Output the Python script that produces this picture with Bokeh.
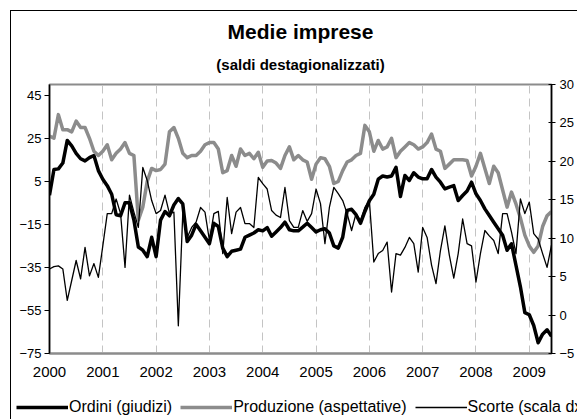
from bokeh.plotting import figure
from bokeh.layouts import column
from bokeh.models import (Range1d, LinearAxis, FixedTicker, Legend, LegendItem, Title,
                          InlineStyleSheet)
from bokeh.embed import file_html
from bokeh.resources import INLINE

# ---- data (monthly, Jan 2000 - Jun 2009) ----
year_labels = ["2000", "2001", "2002", "2003", "2004", "2005", "2006", "2007", "2008", "2009"]
left_ticks = [-75, -55, -35, -15, 5, 25, 45]
right_ticks = [-5, 0, 5, 10, 15, 20, 25, 30]
series_names = ["Ordini (giudizi)", "Produzione (aspettative)", "Scorte (scala dx)"]

ordini = [
    -1.5, 10.5, 10.8, 13.5, 24.0, 21.5, 18.0, 15.5, 14.5, 16.0, 17.0, 10.0,
    6.0, 3.0, -1.0, -10.5, -11.0, -5.0, -5.0, -13.0, -25.5, -27.0, -30.0, -21.0,
    -30.0, -13.0, -9.0, -11.0, -6.0, -3.0, -5.5, -23.0, -20.0, -15.0, -18.0, -21.0,
    -24.0, -14.5, -16.0, -26.0, -30.0, -27.5, -27.0, -26.5, -21.0, -20.0, -19.0, -17.5,
    -18.0, -16.5, -20.5, -18.5, -16.5, -14.0, -17.5, -18.0, -18.0, -16.3, -14.5, -16.5,
    -18.5, -17.5, -17.0, -19.0, -25.0, -26.0, -21.0, -8.5, -8.0, -10.5, -14.5, -9.0,
    -4.0, -1.0, 6.0, 7.5, 7.0, 7.5, 11.5, -2.0, 7.7, 5.4, 9.0, 7.0,
    6.2, 6.2, 10.5, 7.0, 4.6, 1.5, 2.3, 3.0, -3.9, -1.6, 0.5, 4.6,
    -0.8, -3.9, -7.8, -10.9, -14.0, -17.0, -20.0, -27.0, -24.0, -34.0, -44.0, -56.0,
    -57.0, -62.0, -70.0, -66.0, -64.0, -67.0,
]
produzione = [
    26, 25, 36, 29, 29, 28, 33, 30, 30, 25, 19, 17,
    19, 22, 15, 18, 20, 23, 18, 17, -13, -7, 5, 11,
    10, 10.5, 13, 28, 30, 25, 18, 16, 17, 17, 19, 22,
    23, 23, 20, 9, 10, 17, 12, 20, 17, 18, 15.5, 18.5,
    11.5, 14.5, 14.7, 13.5, 11, 17, 21, 15, 17, 15, 14, 6,
    13, 16, 15.5, 12, 4, 5, 10, 14, 15, 17, 18, 31,
    28, 19, 24, 20, 21, 25, 16, 19, 21, 23, 22, 20,
    21, 23, 27, 20, 19, 11, 13, 15, 15, 15, 14.7, 7.5,
    12, 18, 11, 4, 12, 9, 1, -7, 0, -5.5, -12, -20,
    -25, -28, -25, -16, -11, -9,
]
scorte = [
    6.0, 6.3, 6.4, 6.0, 1.9, 4.5, 7.1, 4.7, 8.8, 5.1, 6.7, 4.9,
    9.0, 13.2, 13.2, 15.1, 13.2, 6.2, 15.6, 13.4, 11.4, 19.2, 17.5, 14.9,
    13.2, 13.6, 15.6, 13.2, 13.4, -1.4, 13.2, 10.1, 11.4, 12.1, 14.0, 13.4,
    9.7, 13.2, 13.5, 8.0, 15.3, 10.6, 13.4, 14.0, 11.9, 11.9, 11.4, 17.9,
    17.1, 16.4, 13.6, 13.0, 12.7, 16.6, 12.3, 11.4, 11.4, 13.6, 12.2, 13.2,
    16.4, 14.5, 9.3, 14.0, 16.6, 15.8, 14.9, 13.2, 11.0, 13.2, 12.3, 14.0,
    14.9, 6.9, 8.0, 8.4, 9.5, 3.0, 8.0, 7.8, 8.8, 10.1, 9.3, 5.6,
    11.4, 10.1, 6.5, 4.1, 8.4, 11.6, 7.8, 4.8, 8.0, 12.5, 9.3, 9.0,
    4.3, 8.0, 11.0, 10.3, 9.7, 8.0, 13.2, 13.2, 10.8, 8.0, 15.1, 13.2,
    14.7, 10.6, 9.9, 8.0, 6.2, 9.1,
]

months = list(range(len(ordini)))
year_ticks = [12 * i for i in range(len(year_labels))]

FONT = "Liberation Sans"
GREY = "#8c8c8c"
STYLES = [
    dict(line_color="black", line_width=3.5),
    dict(line_color=GREY, line_width=3.5),
    dict(line_color="black", line_width=1.3),
]

W, H_MAIN, H_LEG = 577, 395, 24

css_main = InlineStyleSheet(css=(
    ":host { position: relative; }"
    ":host::before { content: ''; position: absolute; left: 10px; top: 10px; right: 0; bottom: 0;"
    " border-left: 1px solid black; border-top: 1px solid black; z-index: 5; pointer-events: none; }"))
css_leg = InlineStyleSheet(css=(
    ":host { position: relative; }"
    ":host::before { content: ''; position: absolute; left: 10px; top: 0; bottom: 0; width: 0;"
    " border-left: 1px solid black; z-index: 5; pointer-events: none; }"))

p = figure(width=W, height=H_MAIN, output_backend="svg", toolbar_location=None,
           x_range=Range1d(months[0], months[-1]), y_range=Range1d(-75, 50),
           min_border_left=49, min_border_right=25, min_border_top=84, min_border_bottom=42,
           background_fill_color="white", border_fill_color="white",
           stylesheets=[css_main])
p.frame_align = False
p.extra_y_ranges = {"dx": Range1d(-5, 30)}

p.outline_line_color = GREY
p.outline_line_width = 2
p.ygrid.visible = False
p.xgrid.ticker = FixedTicker(ticks=year_ticks)
p.xgrid.grid_line_color = "#c4c4c4"
p.xgrid.grid_line_dash = "8 5"
p.xgrid.grid_line_width = 1

# left axis
ya = p.yaxis[0]
ya.ticker = FixedTicker(ticks=left_ticks)
ya.axis_line_color = "black"
ya.axis_line_width = 1.5
ya.major_tick_line_color = "black"
ya.major_tick_out = 5
ya.major_tick_in = 0
ya.minor_tick_line_color = None
ya.major_label_standoff = 3
ya.major_label_text_font = FONT
ya.major_label_text_font_size = "13px"
ya.major_label_text_color = "black"

# right axis
ra = LinearAxis(y_range_name="dx", ticker=FixedTicker(ticks=right_ticks))
ra.axis_line_color = "black"
ra.axis_line_width = 1.5
ra.major_tick_out = 4
ra.major_tick_in = 3
ra.minor_tick_line_color = None
ra.major_label_standoff = 4
ra.major_label_text_font = FONT
ra.major_label_text_font_size = "13px"
ra.major_label_text_color = "black"
p.add_layout(ra, "right")

# bottom axis
xa = p.xaxis[0]
xa.ticker = FixedTicker(ticks=year_ticks)
xa.major_label_overrides = {t: lab for t, lab in zip(year_ticks, year_labels)}
xa.axis_line_color = GREY
xa.axis_line_width = 2
xa.major_tick_out = 0
xa.major_tick_in = 0
xa.minor_tick_line_color = None
xa.major_label_standoff = 13
xa.major_label_text_font = FONT
xa.major_label_text_font_size = "15px"
xa.major_label_text_color = "black"

p.line(months, ordini, line_join="round", **STYLES[0])
p.line(months, produzione, line_join="round", **STYLES[1])
p.line(months, scorte, line_join="round", y_range_name="dx", **STYLES[2])

p.add_layout(Title(text="(saldi destagionalizzati)", align="center", text_font=FONT,
                   text_font_size="15px", text_font_style="bold", text_color="black",
                   standoff=23), "above")
p.add_layout(Title(text="Medie imprese", align="center", text_font=FONT,
                   text_font_size="21px", text_font_style="bold", text_color="black",
                   standoff=0), "above")

# ---- legend strip below the chart ----
lg = figure(width=W, height=H_LEG, output_backend="svg", toolbar_location=None,
            x_range=Range1d(0, 1), y_range=Range1d(0, 1),
            x_axis_location=None, y_axis_location=None,
            min_border_left=0, min_border_right=0, min_border_top=0, min_border_bottom=0,
            background_fill_color="white", border_fill_color="white",
            stylesheets=[css_leg])
lg.frame_align = False
lg.grid.visible = False
lg.outline_line_color = None
# single-point proxies (draw nothing themselves) that carry each series' style for the legend
proxies = [lg.line([months[0]], [ser[0]], **st)
           for ser, st in zip([ordini, produzione, scorte], STYLES)]
legend = Legend(items=[LegendItem(label=n, renderers=[r]) for n, r in zip(series_names, proxies)],
                orientation="horizontal", location=(16, 3),
                glyph_width=52, glyph_height=18, label_height=18, label_standoff=1,
                spacing=8, padding=0, margin=0, border_line_color=None,
                background_fill_alpha=0, label_text_font=FONT,
                label_text_font_size="16px", label_text_color="black")
lg.add_layout(legend)

layout = column(p, lg, spacing=0)
open("out.html", "w").write(file_html(layout, INLINE, title="Medie imprese"))
